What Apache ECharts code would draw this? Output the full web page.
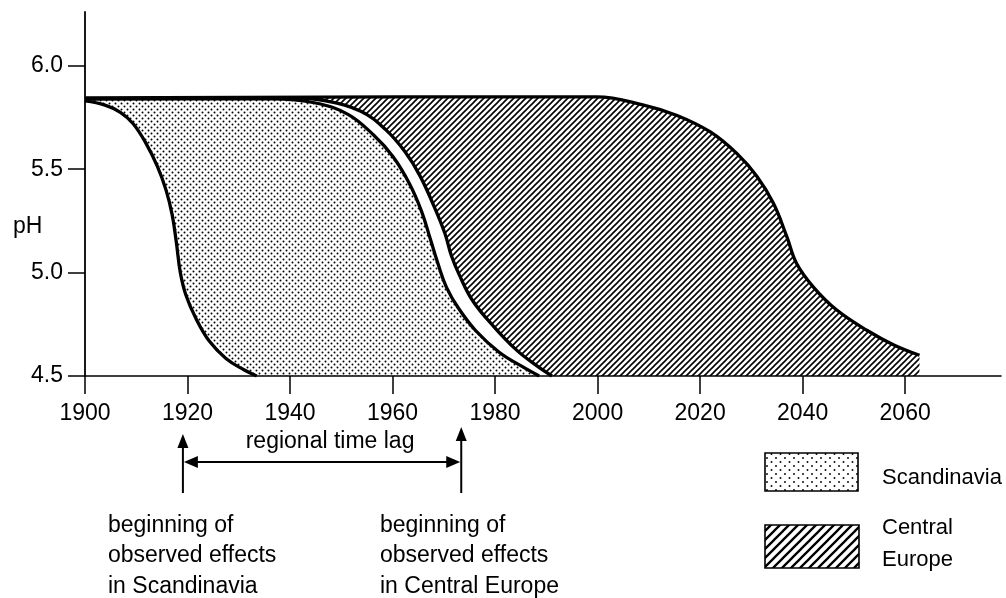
<!DOCTYPE html>
<html><head><meta charset="utf-8">
<script src="https://cdn.jsdelivr.net/npm/echarts@6/dist/echarts.min.js"></script>
<style>html,body{margin:0;padding:0;background:#fff}#c{width:1006px;height:598px}</style>
</head><body><div id="c"></div>
<script>
// ---- data ----
const xTicks = [1900, 1920, 1940, 1960, 1980, 2000, 2020, 2040, 2060];
const yTicks = [4.5, 5.0, 5.5, 6.0];
// Scandinavia: early (left) boundary of the range
const scandinaviaEarly = [[1900,5.83],[1903.9,5.81],[1906.9,5.775],[1909.4,5.72],[1911.9,5.625],[1914.1,5.515],[1915.8,5.40],[1917.0,5.28],[1917.8,5.15],[1918.6,5.00],[1919.7,4.89],[1921.6,4.78],[1924.2,4.67],[1927.5,4.585],[1931.0,4.53],[1933.5,4.5]];
// Scandinavia: late (right) boundary
const scandinaviaLate = [[1900,5.84],[1936.5,5.84],[1945.0,5.82],[1951.3,5.765],[1956.3,5.665],[1960.1,5.56],[1963.3,5.43],[1965.6,5.30],[1967.4,5.16],[1968.9,5.04],[1970.5,4.93],[1972.8,4.83],[1976.2,4.72],[1980.8,4.615],[1985.0,4.55],[1988.6,4.5]];
// Central Europe: early (left) boundary
const centralEarly = [[1900,5.84],[1940.5,5.845],[1947.0,5.83],[1953.8,5.78],[1958.7,5.69],[1962.4,5.585],[1965.3,5.47],[1968.1,5.32],[1970.2,5.19],[1971.5,5.08],[1973.0,4.99],[1975.6,4.865],[1979.7,4.74],[1984.2,4.625],[1988.1,4.55],[1991.1,4.5]];
// Central Europe: late (right) boundary
const centralLate = [[1900,5.845],[1990.6,5.85],[1999.8,5.85],[2009.0,5.81],[2015.5,5.76],[2022.0,5.68],[2027.2,5.575],[2031.1,5.465],[2034.3,5.335],[2036.9,5.175],[2038.8,5.045],[2042.1,4.93],[2046.6,4.82],[2052.6,4.72],[2057.8,4.65],[2062.8,4.6]];
// annotation years
const lagYears = [1919.1, 1973.4];
const noteTexts = ['beginning of\nobserved effects\nin Scandinavia', 'beginning of\nobserved effects\nin Central Europe'];
const legendNames = ['Scandinavia', 'Central\nEurope'];

// ---- patterns ----
function dotCanvas(w, h, pts, r) {
  const c = document.createElement('canvas'); c.width = w; c.height = h;
  const g = c.getContext('2d');
  g.fillStyle = '#fff'; g.fillRect(0, 0, w, h);
  g.fillStyle = '#000';
  pts.forEach(p => { g.beginPath(); g.arc(p[0], p[1], r, 0, Math.PI * 2); g.fill(); });
  return c;
}
function hatchCanvas(s, lw) {
  const c = document.createElement('canvas'); c.width = s; c.height = s;
  const g = c.getContext('2d');
  g.fillStyle = '#fff'; g.fillRect(0, 0, s, s);
  g.strokeStyle = '#000'; g.lineWidth = lw;
  g.beginPath();
  g.moveTo(-1, s + 1); g.lineTo(s + 1, -1);
  g.moveTo(-1, 1); g.lineTo(1, -1);
  g.moveTo(s - 1, s + 1); g.lineTo(s + 1, s - 1);
  g.stroke();
  return c;
}
const dots = {image: dotCanvas(6, 6, [[1.5,1.5],[4.5,4.5]], 1.0), repeat: 'repeat'};
const hatch = {image: hatchCanvas(6, 1.6), repeat: 'repeat'};
const dotsLeg = {image: dotCanvas(9, 8, [[2,2],[6.5,6]], 0.95), repeat: 'repeat'};
const hatchLeg = {image: hatchCanvas(9, 2.3), repeat: 'repeat'};

const FONT = 'Liberation Sans, Arial, sans-serif';
const chart = echarts.init(document.getElementById('c'), null, {renderer: 'canvas'});

function band(name, data, fill) {
  return {
    name, type: 'line', data, smooth: 0.4, showSymbol: false, symbol: 'none',
    silent: true, animation: false,
    lineStyle: {color: '#000', width: 3.3},
    areaStyle: {color: fill, opacity: 1, origin: 'start'}
  };
}

chart.setOption({
  animation: false,
  backgroundColor: '#fff',
  grid: {left: 85, right: 5, top: 12, bottom: 222},
  xAxis: {
    type: 'value', min: 1900, max: 2078.7, interval: 20, z: 5,
    axisLine: {show: true, lineStyle: {color: '#000', width: 1.6}},
    axisTick: {show: true, inside: false, length: 18, lineStyle: {color: '#000', width: 1.5}, customValues: xTicks},
    axisLabel: {color: '#000', fontSize: 23, fontFamily: FONT, margin: 26, customValues: xTicks,
      formatter: v => xTicks.includes(v) ? String(v) : ''},
    splitLine: {show: false}
  },
  yAxis: {
    type: 'value', min: 4.5, max: 6.26, interval: 0.5, z: 5,
    axisLine: {show: true, lineStyle: {color: '#000', width: 1.8}},
    axisTick: {show: true, inside: false, length: 17, lineStyle: {color: '#000', width: 1.5}, customValues: yTicks},
    axisLabel: {color: '#000', fontSize: 23, fontFamily: FONT, margin: 22, customValues: yTicks,
      formatter: v => yTicks.some(t => Math.abs(t - v) < 1e-6) ? v.toFixed(1) : ''},
    splitLine: {show: false}
  },
  series: [
    band('Central Europe late', centralLate, hatch),
    band('Central Europe early', centralEarly, '#fff'),
    band('Scandinavia late', scandinaviaLate, dots),
    band('Scandinavia early', scandinaviaEarly, '#fff')
  ]
});

const xa = chart.convertToPixel({xAxisIndex: 0}, lagYears[0]);
const xb = chart.convertToPixel({xAxisIndex: 0}, lagYears[1]);
const ah = 14, aw = 5.5, st = {stroke: '#000', lineWidth: 2};
const tx = (t, x, y, extra) => Object.assign({type: 'text', silent: true, x, y,
  style: Object.assign({text: t, fill: '#000', font: '23px ' + FONT}, extra || {})});

chart.setOption({
  graphic: [
    tx('pH', 13, 227, {textVerticalAlign: 'middle', textAlign: 'left'}),
    {type: 'line', silent: true, shape: {x1: xa, y1: 444, x2: xa, y2: 493}, style: st},
    {type: 'polygon', silent: true, shape: {points: [[xa, 434], [xa - aw, 434 + ah], [xa + aw, 434 + ah]]}, style: {fill: '#000'}},
    {type: 'line', silent: true, shape: {x1: xb, y1: 437, x2: xb, y2: 493}, style: st},
    {type: 'polygon', silent: true, shape: {points: [[xb, 427], [xb - aw, 427 + ah], [xb + aw, 427 + ah]]}, style: {fill: '#000'}},
    {type: 'line', silent: true, shape: {x1: xa + 8, y1: 462, x2: xb - 8, y2: 462}, style: st},
    {type: 'polygon', silent: true, shape: {points: [[xa + 1, 462], [xa + 1 + ah, 462 - aw - 0.5], [xa + 1 + ah, 462 + aw + 0.5]]}, style: {fill: '#000'}},
    {type: 'polygon', silent: true, shape: {points: [[xb - 1, 462], [xb - 1 - ah, 462 - aw - 0.5], [xb - 1 - ah, 462 + aw + 0.5]]}, style: {fill: '#000'}},
    tx('regional time lag', (xa + xb) / 2 + 8, 442, {textAlign: 'center', textVerticalAlign: 'middle'}),
    tx(noteTexts[0], 108, 510, {textAlign: 'left', textVerticalAlign: 'top', lineHeight: 30.5}),
    tx(noteTexts[1], 380, 510, {textAlign: 'left', textVerticalAlign: 'top', lineHeight: 30.5}),
    {type: 'rect', silent: true, shape: {x: 765, y: 453, width: 93, height: 38}, style: {fill: dotsLeg, stroke: '#000', lineWidth: 1.6}},
    tx(legendNames[0], 882, 478, {textAlign: 'left', textVerticalAlign: 'middle', font: '22px ' + FONT}),
    {type: 'rect', silent: true, shape: {x: 765, y: 525, width: 94, height: 43}, style: {fill: hatchLeg, stroke: '#000', lineWidth: 1.6}},
    tx(legendNames[1], 882, 512, {textAlign: 'left', textVerticalAlign: 'top', lineHeight: 32, font: '22px ' + FONT})
  ]
});
</script></body></html>
